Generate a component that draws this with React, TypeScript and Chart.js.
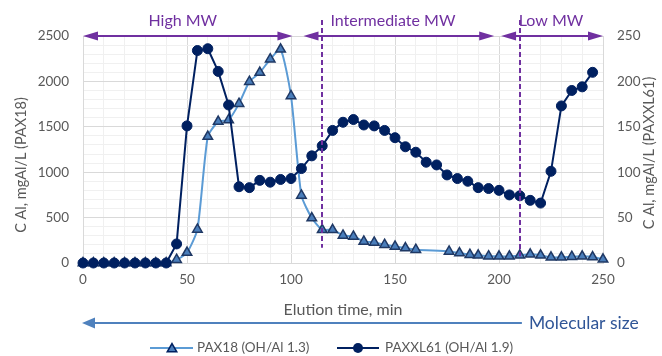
import React, { useEffect, useRef } from "react";
import { Chart, registerables } from "chart.js";

Chart.register(...registerables);

// ---- Data ----
const pax18Time = [
  0, 5, 10, 15, 20, 25, 30, 35, 40, 45, 50, 55, 60, 65, 70, 75, 80, 85, 90, 95,
  100, 105, 110, 115, 120, 125, 130, 135, 140, 145, 150, 155, 160, 176, 181, 186,
  190, 195, 200, 205, 210, 215, 220, 225, 230, 235, 240, 245, 250,
];
const pax18Values = [
  0, 0, 0, 0, 0, 0, 0, 0, 0, 36, 115, 370, 1393, 1557, 1576, 1755, 1997, 2097,
  2244, 2354, 1840, 744, 495, 366, 366, 304, 293, 238, 227, 201, 183, 165, 146,
  128, 110, 91, 84, 75, 73, 73, 84, 95, 84, 62, 62, 70, 73, 66, 40,
];
const paxxl61Time = [
  0, 5, 10, 15, 20, 25, 30, 35, 40, 45, 50, 55, 60, 65, 70, 75, 80, 85, 90, 95,
  100, 105, 110, 115, 120, 125, 130, 135, 140, 145, 150, 155, 160, 165, 170, 175,
  180, 185, 190, 195, 200, 205, 210, 215, 220, 225, 230, 235, 240, 245,
];
const paxxl61Values = [
  0, 0, 0, 0, 0, 0, 0, 0, 0, 21, 151, 234, 236, 211, 174, 84, 83, 91, 89, 92,
  93, 104, 118, 129, 146, 155, 158, 152, 151, 146, 138, 128, 122, 111, 108, 97,
  93, 90, 83, 82, 80, 75, 74, 69, 66, 101, 173, 190, 194, 210,
];

const xTickLabels = [0, 50, 100, 150, 200, 250];
const leftTickLabels = [0, 500, 1000, 1500, 2000, 2500];
const rightTickLabels = [0, 50, 100, 150, 200, 250];

const seriesNames = ["PAX18 (OH/Al 1.3)", "PAXXL61 (OH/Al 1.9)"];
const regionNames = ["High MW", "Intermediate MW", "Low MW"];
const regionStarts = [0, 106, 201];
const regionEnds = [100.7, 197.7, 250];
const regionLabelAt = [48, 149, 225];
const regionBoundaries = [115, 210];
const boundaryEnds = [168, 73];
const moleculeArrowEnd = 211;

const xTitle = "Elution time, min";
const leftTitle = "C Al, mgAl/L (PAX18)";
const rightTitle = "C Al, mgAl/L (PAXXL61)";
const sizeLabel = "Molecular size";

// ---- Styles ----
const PURPLE = "#7030A0";
const GRAY_TEXT = "#595959";
const LIGHT_BLUE = "#5B9BD5";
const TRI_FILL = "#4A7EBB";
const NAVY = "#002060";
const FONT = "Lato, 'Open Sans', sans-serif";

function drawArrowHead(ctx: CanvasRenderingContext2D, tipX: number, tipY: number, dir: number, len: number, half: number) {
  ctx.beginPath();
  ctx.moveTo(tipX, tipY);
  ctx.lineTo(tipX - dir * len, tipY - half);
  ctx.lineTo(tipX - dir * len, tipY + half);
  ctx.closePath();
  ctx.fill();
}

function drawTriangle(ctx: CanvasRenderingContext2D, x: number, y: number, r: number) {
  ctx.beginPath();
  for (let i = 0; i < 3; i++) {
    const a = (i * 2 * Math.PI) / 3;
    const px = x + Math.sin(a) * r;
    const py = y - Math.cos(a) * r;
    if (i === 0) ctx.moveTo(px, py);
    else ctx.lineTo(px, py);
  }
  ctx.closePath();
}

const annotationPlugin = {
  id: "annotations",
  afterDatasetsDraw(chart: any) {
    const ctx: CanvasRenderingContext2D = chart.ctx;
    const xs = chart.scales.x;
    const ys = chart.scales.y;
    const area = chart.chartArea;
    ctx.save();

    // dashed boundaries
    ctx.strokeStyle = PURPLE;
    ctx.lineWidth = 2;
    ctx.setLineDash([5, 3]);
    regionBoundaries.forEach((b, i) => {
      const px = Math.round(xs.getPixelForValue(b));
      ctx.beginPath();
      ctx.moveTo(px, area.top - 16);
      ctx.lineTo(px, ys.getPixelForValue(boundaryEnds[i]));
      ctx.stroke();
    });
    ctx.setLineDash([]);

    // region arrows
    const ay = area.top;
    ctx.fillStyle = PURPLE;
    ctx.strokeStyle = PURPLE;
    ctx.lineWidth = 2;
    regionNames.forEach((name, i) => {
      const x1 = xs.getPixelForValue(regionStarts[i]);
      const x2 = xs.getPixelForValue(regionEnds[i]);
      ctx.beginPath();
      ctx.moveTo(x1 + 8, ay);
      ctx.lineTo(x2 - 8, ay);
      ctx.stroke();
      drawArrowHead(ctx, x1, ay, -1, 15, 4.5);
      drawArrowHead(ctx, x2, ay, 1, 15, 4.5);
      ctx.font = `16px ${FONT}`;
      ctx.textAlign = "center";
      ctx.textBaseline = "middle";
      ctx.fillText(name, xs.getPixelForValue(regionLabelAt[i]), area.top - 15);
    });

    ctx.restore();
  },
  afterDraw(chart: any) {
    const ctx: CanvasRenderingContext2D = chart.ctx;
    const xs = chart.scales.x;
    const area = chart.chartArea;
    ctx.save();

    // x title
    ctx.fillStyle = GRAY_TEXT;
    ctx.font = `16px ${FONT}`;
    ctx.textAlign = "center";
    ctx.textBaseline = "middle";
    ctx.fillText(xTitle, (area.left + area.right) / 2, 310);

    // y titles
    ctx.font = `14.5px ${FONT}`;
    ctx.save();
    ctx.translate(21, 165);
    ctx.rotate(-Math.PI / 2);
    ctx.fillText(leftTitle, 0, 0);
    ctx.restore();
    ctx.save();
    ctx.translate(649, 153);
    ctx.rotate(-Math.PI / 2);
    ctx.fillText(rightTitle, 0, 0);
    ctx.restore();

    // molecular size arrow
    const my = 323;
    const mx1 = xs.getPixelForValue(0) - 1;
    const mx2 = xs.getPixelForValue(moleculeArrowEnd);
    ctx.strokeStyle = "#4F81BD";
    ctx.fillStyle = "#4F81BD";
    ctx.lineWidth = 2;
    ctx.beginPath();
    ctx.moveTo(mx1 + 10, my);
    ctx.lineTo(mx2, my);
    ctx.stroke();
    drawArrowHead(ctx, mx1, my, -1, 13, 5.5);
    ctx.fillStyle = "#2F5597";
    ctx.font = `17.5px ${FONT}`;
    ctx.textAlign = "left";
    ctx.fillText(sizeLabel, mx2 + 7, my);

    // legend
    const ly = 348;
    ctx.font = `13.5px ${FONT}`;
    ctx.textAlign = "left";
    ctx.textBaseline = "middle";
    // PAX18
    ctx.strokeStyle = LIGHT_BLUE;
    ctx.lineWidth = 2;
    ctx.beginPath();
    ctx.moveTo(150, ly);
    ctx.lineTo(193, ly);
    ctx.stroke();
    drawTriangle(ctx, 172, ly + 1, 5.5);
    ctx.fillStyle = TRI_FILL;
    ctx.fill();
    ctx.strokeStyle = NAVY;
    ctx.lineWidth = 1.5;
    ctx.stroke();
    ctx.fillStyle = GRAY_TEXT;
    ctx.fillText(seriesNames[0], 197, ly);
    // PAXXL61
    ctx.strokeStyle = NAVY;
    ctx.lineWidth = 2;
    ctx.beginPath();
    ctx.moveTo(337, ly);
    ctx.lineTo(379, ly);
    ctx.stroke();
    ctx.beginPath();
    ctx.arc(358, ly, 5, 0, Math.PI * 2);
    ctx.fillStyle = NAVY;
    ctx.fill();
    ctx.fillStyle = GRAY_TEXT;
    ctx.fillText(seriesNames[1], 385, ly);

    ctx.restore();
  },
};

export default function App() {
  const canvasRef = useRef<HTMLCanvasElement | null>(null);

  useEffect(() => {
    document.body.style.margin = "0";
    const canvas = canvasRef.current;
    if (!canvas) return;

    const majorMinor = (majors: number[]) => (c: any) =>
      c.tick && majors.includes(c.tick.value) ? "#d9d9d9" : "#f0f0f0";

    const chart = new Chart(canvas, {
      type: "line",
      data: {
        datasets: [
          {
            label: seriesNames[1],
            data: paxxl61Time.map((t, i) => ({ x: t, y: paxxl61Values[i] })),
            yAxisID: "y1",
            borderColor: NAVY,
            backgroundColor: NAVY,
            borderWidth: 2,
            pointStyle: "circle",
            pointRadius: 5,
            pointBorderWidth: 1,
            pointBorderColor: NAVY,
            pointBackgroundColor: NAVY,
            tension: 0,
            clip: false,
          },
          {
            label: seriesNames[0],
            data: pax18Time.map((t, i) => ({ x: t, y: pax18Values[i] })),
            yAxisID: "y",
            borderColor: LIGHT_BLUE,
            backgroundColor: TRI_FILL,
            borderWidth: 2,
            pointStyle: "triangle",
            pointRadius: 5.5,
            pointBorderWidth: 1.5,
            pointBorderColor: "#1F3864",
            pointBackgroundColor: TRI_FILL,
            tension: 0.2,
            clip: false,
          },
        ],
      },
      options: {
        animation: false,
        responsive: false,
        maintainAspectRatio: false,
        layout: { padding: { top: 36, left: 0, right: 0, bottom: 0 } },
        plugins: {
          legend: { display: false },
          tooltip: { enabled: false },
        },
        font: { family: FONT },
        scales: {
          x: {
            type: "linear",
            min: 0,
            max: 250,
            afterFit: (s: any) => {
              s.height = 93;
            },
            ticks: {
              stepSize: 10,
              autoSkip: false,
              maxRotation: 0,
              padding: 9,
              color: GRAY_TEXT,
              font: { family: FONT, size: 13.5 },
              callback: (v: any) => (xTickLabels.includes(Number(v)) ? String(v) : ""),
            },
            grid: { color: majorMinor(xTickLabels), drawTicks: false, lineWidth: 1 },
            border: { display: true, color: "#d9d9d9" },
          },
          y: {
            type: "linear",
            position: "left",
            min: 0,
            max: 2500,
            afterFit: (s: any) => {
              s.width = 83;
            },
            ticks: {
              stepSize: 100,
              autoSkip: false,
              padding: 14,
              color: GRAY_TEXT,
              font: { family: FONT, size: 13.5 },
              callback: (v: any) => (leftTickLabels.includes(Number(v)) ? String(v) : ""),
            },
            grid: { color: majorMinor(leftTickLabels), drawTicks: false, lineWidth: 1 },
            border: { display: true, color: "#d9d9d9" },
          },
          y1: {
            type: "linear",
            position: "right",
            min: 0,
            max: 250,
            afterFit: (s: any) => {
              s.width = 59;
            },
            ticks: {
              stepSize: 50,
              autoSkip: false,
              padding: 14,
              color: GRAY_TEXT,
              font: { family: FONT, size: 13.5 },
              callback: (v: any) => (rightTickLabels.includes(Number(v)) ? String(v) : ""),
            },
            grid: { display: false, drawTicks: false },
            border: { display: true, color: "#d9d9d9" },
          },
        },
      } as any,
      plugins: [annotationPlugin],
    });

    return () => chart.destroy();
  }, []);

  return (
    <div style={{ width: 662, height: 356, position: "relative" }}>
      <canvas ref={canvasRef} width={662} height={356} />
    </div>
  );
}
